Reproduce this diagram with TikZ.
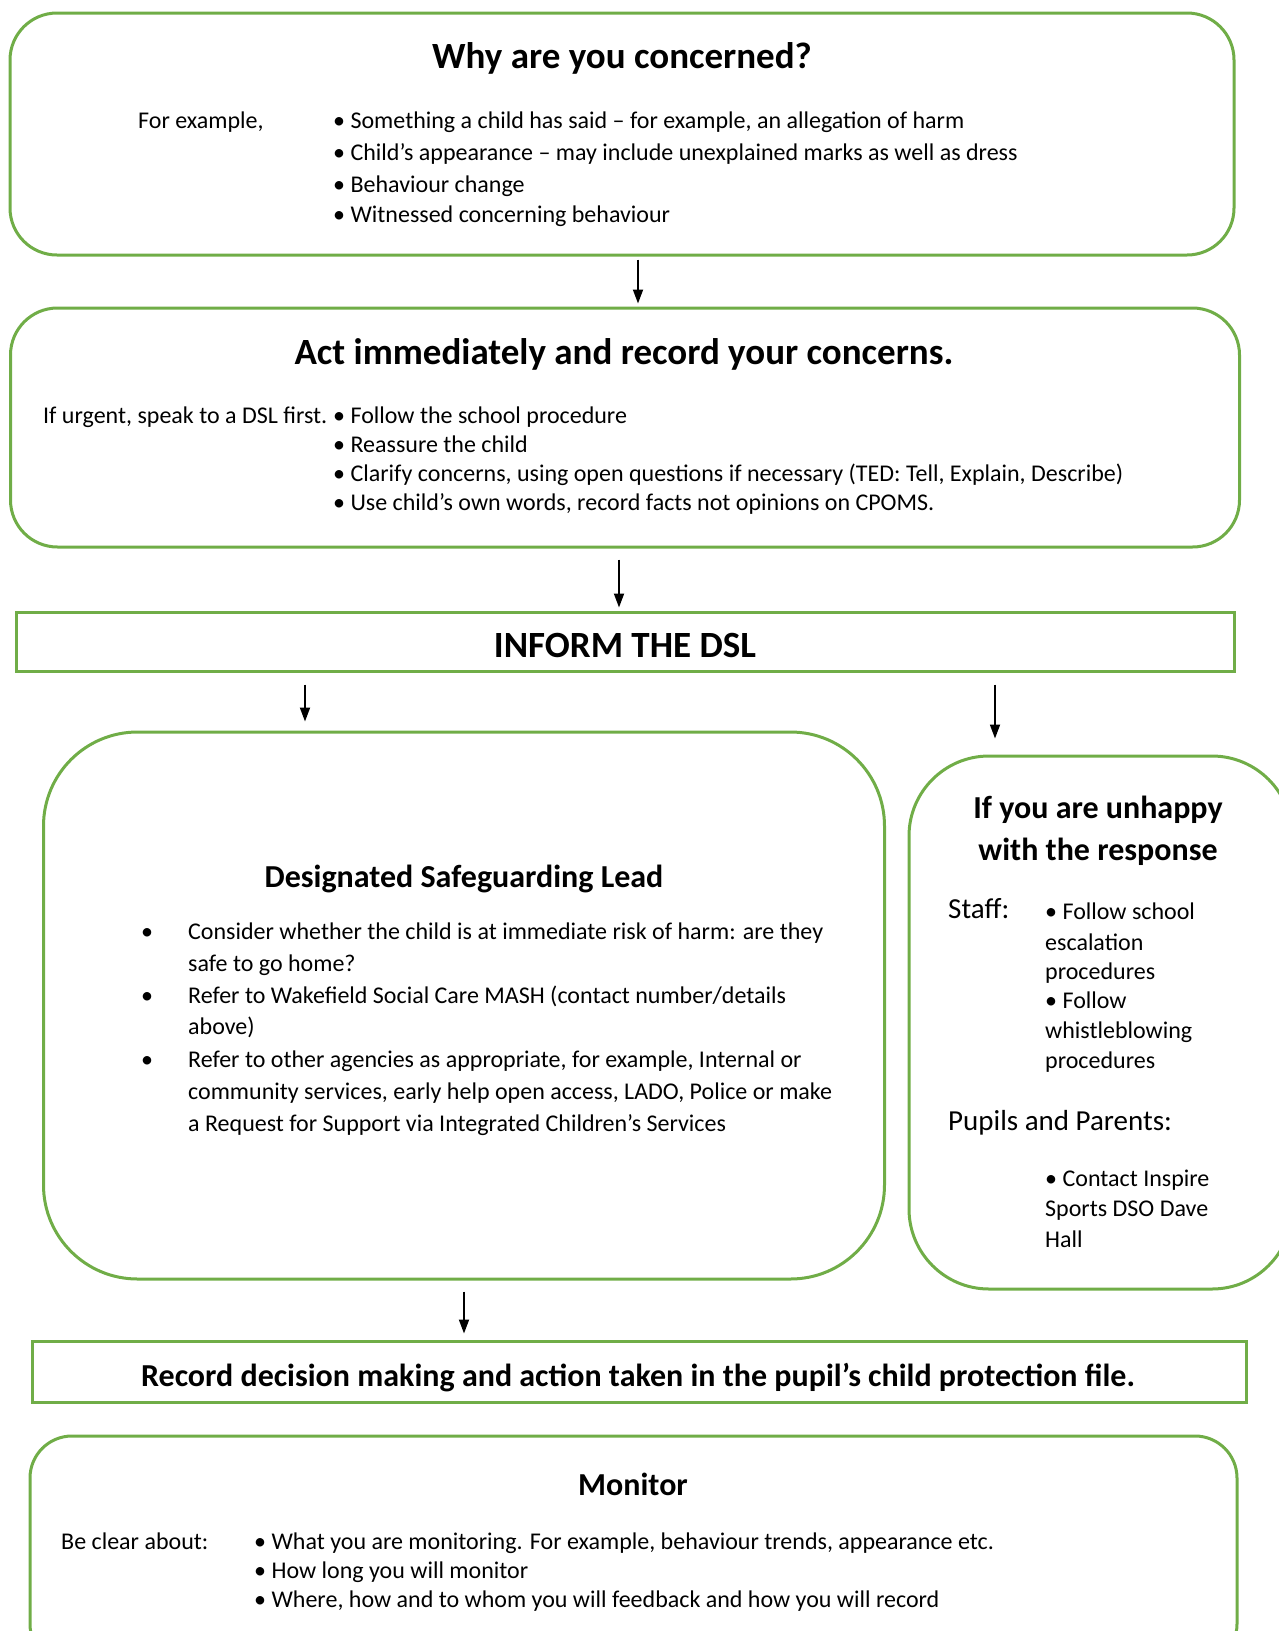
\documentclass[tikz,border=0pt]{standalone}
\usepackage{fontspec}
\setmainfont{Carlito}
\usetikzlibrary{arrows.meta,calc}
\definecolor{grn}{HTML}{70AD47}
\tikzset{
 box/.style={draw=grn, line width=3pt, rounded corners=#1, inner sep=0, shape=rectangle},
 sqbox/.style={draw=grn, line width=3pt, inner sep=0, shape=rectangle},
 txt/.style={inner sep=0, anchor=mid west, yshift=-5pt, font=\fontsize{24}{29}\selectfont},
 bigtxt/.style={inner sep=0, anchor=mid west, yshift=-5pt, font=\fontsize{29}{35}\selectfont},
 ttl/.style={inner sep=0, anchor=mid, yshift=-8.5pt, font=\fontsize{37}{44}\selectfont\bfseries},
 subttl/.style={ttl, font=\fontsize{32}{38}\selectfont\bfseries},
 arr/.style={line width=1.8pt, -{Triangle[length=14pt,width=10pt]}},
}
\begin{document}
\begin{tikzpicture}[x=1pt,y=-1pt]
\useasboundingbox (0,0) rectangle (1279,1631);
% boxes
\node[box=47pt, minimum width=1224pt, minimum height=242pt] (b1) at (622,134) {};
\node[box=47pt, minimum width=1229pt, minimum height=239pt] (b2) at (625,427.5) {};
\node[sqbox, minimum width=1218pt, minimum height=59pt] (b3) at (625,641.5) {};
\node[box=94pt, minimum width=841pt, minimum height=547pt] (b4) at (464,1005.5) {};
\node[box=80pt, minimum width=383pt, minimum height=533pt] (b5) at (1100.5,1022.5) {};
\node[sqbox, minimum width=1214pt, minimum height=61pt] (b6) at (639,1371.5) {};
\node[box=42pt, minimum width=1207pt, minimum height=230pt] (b7) at (633.5,1551) {};
% box 1
\node[ttl] (t1) at (622,58) {Why are you concerned?};
\node[txt] (fe) at (138,121) {For example,};
\node[txt] (l11) at (333,121) {• Something a child has said – for example, an allegation of harm};
\node[txt] (l12) at (333,153) {• Child’s appearance – may include unexplained marks as well as dress};
\node[txt] (l13) at (333,185) {• Behaviour change};
\node[txt] (l14) at (333,215) {• Witnessed concerning behaviour};
% box 2
\node[ttl] (t2) at (624,354) {Act immediately and record your concerns.};
\node[txt] (urg) at (43,416) {If urgent, speak to a DSL first.};
\node[txt] (l21) at (333,416) {• Follow the school procedure};
\node[txt] (l22) at (333,445) {• Reassure the child};
\node[txt] (l23) at (333,474) {• Clarify concerns, using open questions if necessary (TED: Tell, Explain, Describe)};
\node[txt] (l24) at (333,503) {• Use child’s own words, record facts not opinions on CPOMS.};
% box 3
\node[ttl] (t3) at (625,647) {INFORM THE DSL};
% box 4
\node[subttl] (t4) at (464,877) {Designated Safeguarding Lead};
\node[txt] (d1) at (141,932) {•};
\node[txt] (l41) at (188,932) {Consider whether the child is at immediate risk of harm: are they};
\node[txt] (l42) at (188,964) {safe to go home?};
\node[txt] (d2) at (141,996) {•};
\node[txt] (l43) at (188,996) {Refer to Wakefield Social Care MASH (contact number/details};
\node[txt] (l44) at (188,1027) {above)};
\node[txt] (d3) at (141,1060) {•};
\node[txt] (l45) at (188,1060) {Refer to other agencies as appropriate, for example, Internal or};
\node[txt] (l46) at (188,1092) {community services, early help open access, LADO, Police or make};
\node[txt] (l47) at (188,1124) {a Request for Support via Integrated Children’s Services};
% box 5
\node[subttl] (t5a) at (1098,808) {If you are unhappy};
\node[subttl] (t5b) at (1098,850) {with the response};
\node[bigtxt] (stf) at (948,911) {Staff:};
\node[txt] (l51) at (1045,912) {• Follow school};
\node[txt] (l52) at (1045,943) {escalation};
\node[txt] (l53) at (1045,972) {procedures};
\node[txt] (l54) at (1045,1001) {• Follow};
\node[txt] (l55) at (1045,1031) {whistleblowing};
\node[txt] (l56) at (1045,1061) {procedures};
\node[bigtxt] (pp) at (948,1123) {Pupils and Parents:};
\node[txt] (l57) at (1045,1179) {• Contact Inspire};
\node[txt] (l58) at (1045,1209) {Sports DSO Dave};
\node[txt] (l59) at (1045,1240) {Hall};
% box 6
\node[subttl] (t6) at (638,1376) {Record decision making and action taken in the pupil’s child protection file.};
% box 7
\node[subttl] (t7) at (633,1485) {Monitor};
\node[txt] (bca) at (61,1542) {Be clear about:};
\node[txt] (l71) at (254,1542) {• What you are monitoring. For example, behaviour trends, appearance etc.};
\node[txt] (l72) at (254,1571) {• How long you will monitor};
\node[txt] (l73) at (254,1600) {• Where, how and to whom you will feedback and how you will record};
% arrows
\draw[arr] ([xshift=16pt,yshift=-3pt]b1.south) -- ([xshift=13pt,yshift=3pt]b2.north);
\draw[arr] ([xshift=-6pt,yshift=-11pt]b2.south) -- ([xshift=-6pt,yshift=3pt]b3.north);
\draw[arr] ([xshift=-320pt,yshift=-12pt]b3.south) -- ([xshift=-159pt,yshift=9pt]b4.north);
\draw[arr] ([xshift=370pt,yshift=-12pt]b3.south) -- ([xshift=-105.5pt,yshift=16pt]b5.north);
\draw[arr] ([yshift=-11pt]b4.south) -- ([xshift=-175pt,yshift=6pt]b6.north);
\end{tikzpicture}
\end{document}
